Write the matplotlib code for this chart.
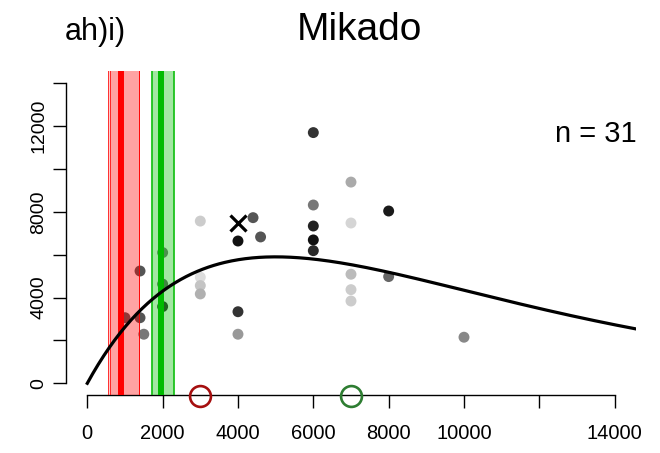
import numpy as np
import matplotlib.pyplot as plt
from matplotlib.patches import Rectangle

plt.rcParams['font.family'] = ['Liberation Sans', 'DejaVu Sans']

# observations: x, y and grey level of each point
obs_x = [1400, 1000, 1400, 1500, 2000, 2000, 2000, 3000, 3000, 3000, 3000,
         4000, 4400, 4600, 4000, 4000, 6000, 7000, 6000, 8000, 7000, 6000,
         6000, 6000, 7000, 7000, 7000, 8000, 10000]
obs_y = [5240, 3060, 3060, 2290, 6100, 4630, 3580, 7570, 4950, 4560, 4170,
         6640, 7730, 6830, 3340, 2290, 11700, 9390, 8320, 8040, 7480, 7340,
         6690, 6190, 5090, 4370, 3840, 4980, 2150]
obs_grey = ['#555555', '#555555', '#555555', '#777777', '#777777', '#666666',
            '#333333', '#cccccc', '#dddddd', '#c4c4c4', '#b0b0b0', '#111111',
            '#555555', '#555555', '#333333', '#999999', '#333333', '#aaaaaa',
            '#777777', '#1a1a1a', '#d5d5d5', '#222222', '#111111', '#2a2a2a',
            '#bbbbbb', '#cccccc', '#cccccc', '#666666', '#888888']

# mean estimate marked with a cross
cross_x, cross_y = 4000, 7470

# bands: centre line plus two ranges each
red_centre = 900
red_ranges = [(560, 1380), (600, 1380)]
green_centre = 1950
green_ranges = [(1680, 2300), (1730, 2270)]

# fitted curve y = a * x * exp(-x / b), peak at (b, a * b / e)
fit_peak_x = 5000
fit_peak_y = 5900

# open markers on the x axis
marker_x = [3000, 7000]
marker_col = ['#a50f0f', '#2e7d32']

n_obs = 31

xticks = list(range(0, 14001, 2000))
xlabels = ['0', '2000', '4000', '6000', '8000', '10000', '', '14000']
yticks = list(range(0, 14001, 2000))
ylabels = ['0', '', '4000', '', '8000', '', '12000', '']

fig = plt.figure(figsize=(6.6, 4.53), dpi=100)
ax = fig.add_axes([0.1003, 0.1274, 0.863, 0.7152])
ax.set_xlim(-560, 14560)
ax.set_ylim(-560, 14560)

ax.scatter(obs_x, obs_y, s=62, c=obs_grey, linewidths=0, zorder=2)

for (lo, hi) in red_ranges:
    ax.add_patch(Rectangle((lo, -1000), hi - lo, 20000, facecolor=(1, 0, 0, 0.2),
                           edgecolor=(1, 0, 0, 0.8), linewidth=0.7, zorder=3))
ax.axvline(red_centre, color='red', linewidth=4.3, zorder=3)
for (lo, hi) in green_ranges:
    ax.add_patch(Rectangle((lo, -1000), hi - lo, 20000, facecolor=(0, 0.75, 0, 0.2),
                           edgecolor=(0, 0.73, 0, 0.8), linewidth=0.7, zorder=3))
ax.axvline(green_centre, color='#00bb00', linewidth=4.3, zorder=3)

a = fit_peak_y * np.e / fit_peak_x
xs = np.linspace(0, 14560, 400)
ax.plot(xs, a * xs * np.exp(-xs / fit_peak_x), color='black', linewidth=2.3, zorder=4)

ax.plot(cross_x, cross_y, marker='x', color='black', markersize=12,
        markeredgewidth=2.3, zorder=5)

for mx, mc in zip(marker_x, marker_col):
    ax.plot(mx, -580, marker='o', markersize=15, markerfacecolor='none',
            markeredgecolor=mc, markeredgewidth=1.9, clip_on=False, zorder=6)

for side in ['top', 'right']:
    ax.spines[side].set_visible(False)
ax.spines['left'].set_bounds(0, 14000)
ax.spines['bottom'].set_bounds(0, 14000)
ax.spines['left'].set_linewidth(1.0)
ax.spines['bottom'].set_linewidth(1.0)

ax.set_xticks(xticks)
ax.set_xticklabels(xlabels, fontsize=14.5)
ax.set_yticks(yticks)
ax.set_yticklabels(ylabels, fontsize=14, rotation=90, va='center')
ax.tick_params(axis='both', direction='out', length=9.4, width=1.0)
ax.tick_params(axis='x', pad=11)
ax.tick_params(axis='y', pad=4)

fig.text(359 / 660, 1 - 40 / 453, 'Mikado', fontsize=28, ha='center', va='baseline')
fig.text(65 / 660, 1 - 40 / 453, 'ah)i)', fontsize=22, ha='left', va='baseline')
fig.text(637 / 660, 1 - 141.7 / 453, 'n = %d' % n_obs, fontsize=21,
         ha='right', va='baseline')

fig.savefig('out.png', dpi=100)
